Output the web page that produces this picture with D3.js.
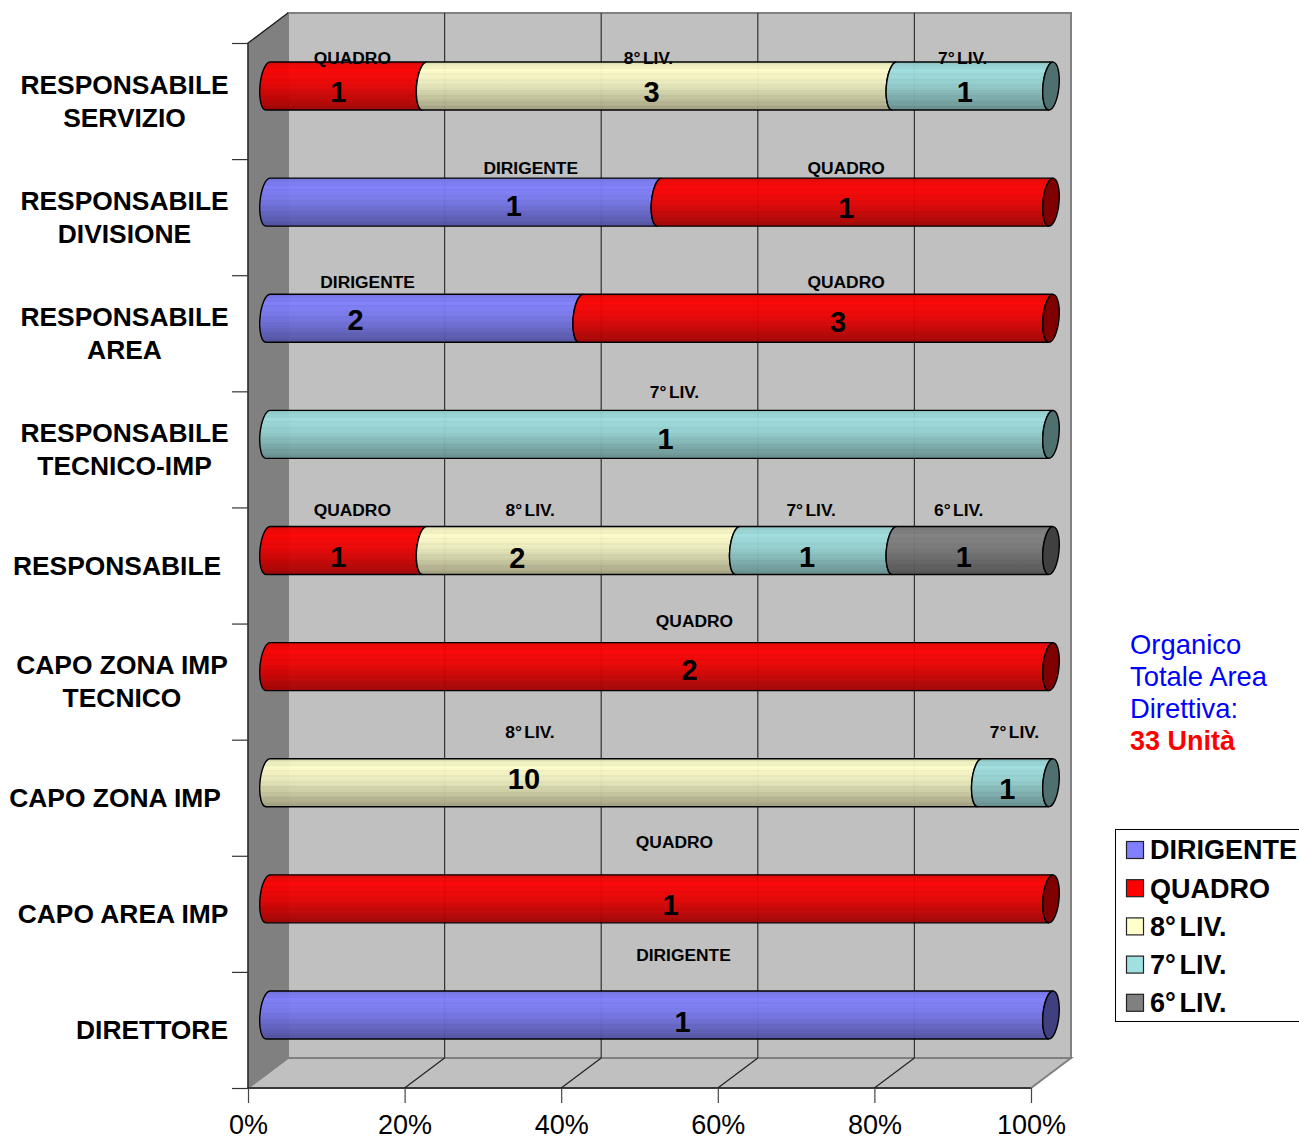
<!DOCTYPE html>
<html lang="it">

<head>
    <meta charset="UTF-8">
    <title>Organico Totale Area Direttiva</title>
    <script src="https://d3js.org/d3.v7.min.js"></script>
    <style>
        body {
            margin: 0;
            background: #fff;
            font-family: "Liberation Sans", Arial, sans-serif;
        }

        svg {
            display: block;
        }

        .cat {
            font-size: 26.4px;
            font-weight: bold;
            text-anchor: middle;
        }

        .val {
            font-size: 29px;
            font-weight: bold;
            text-anchor: middle;
        }

        .name {
            font-size: 17.4px;
            font-weight: bold;
            text-anchor: middle;
        }

        .legend-text {
            font-size: 27px;
            font-weight: bold;
        }

        .note {
            font-size: 27.4px;
        }

        .x-axis text {
            font-size: 27px;
            font-family: "Liberation Sans", Arial, sans-serif;
        }
    </style>
</head>

<body>
    <svg width="1299" height="1137"></svg>

    <script>
        const categories = [
            ['RESPONSABILE', 'SERVIZIO'],
            ['RESPONSABILE', 'DIVISIONE'],
            ['RESPONSABILE', 'AREA'],
            ['RESPONSABILE', 'TECNICO-IMP'],
            ['RESPONSABILE'],
            ['CAPO ZONA IMP', 'TECNICO'],
            ['CAPO ZONA IMP'],
            ['CAPO AREA IMP'],
            ['DIRETTORE']
        ];
        const seriesNames = ['DIRIGENTE', 'QUADRO', '8°LIV.', '7°LIV.', '6°LIV.'];
        const dirigente = [0, 1, 2, 0, 0, 0, 0, 0, 1];
        const quadro = [1, 1, 3, 0, 1, 2, 0, 1, 0];
        const liv8 = [3, 0, 0, 0, 2, 0, 10, 0, 0];
        const liv7 = [1, 0, 0, 1, 1, 0, 1, 0, 0];
        const liv6 = [0, 0, 0, 0, 1, 0, 0, 0, 0];
        const seriesValues = [dirigente, quadro, liv8, liv7, liv6];
        const xTicks = [0, 0.2, 0.4, 0.6, 0.8, 1];
        const noteLines = ['Organico', 'Totale Area', 'Direttiva:'];
        const noteTotal = '33 Unità';

        // colori
        const baseColors = ['#8080ff', '#ff0000', '#ffffcc', '#a0e0e0', '#808080'];
        const capColors = ['#404080', '#800000', '#808066', '#507070', '#404040'];

        // le etichette nel grafico originale sono spostate a mano:
        // [dx valore, dy valore, dx nome, dy nome] per ogni segmento, riga per riga
        const labelNudges = [
            [[-8, 6, 6, -28], [-8, 6, -11, -28], [-8, 6, -10, -28]],
            [[50, 4, 67, -34], [-9, 6, -9, -34]],
            [[-69, 2, -57, -36], [22, 4, 30, -36]],
            [[6, 4, 15, -42]],
            [[-8, 6, 6, -41], [-64, 7, -51, -41], [-9, 6, -5, -41], [-9, 6, -14, -41]],
            [[30, 3, 35, -46]],
            [[-100, -4, -94, -51], [-8, 6, -1, -51]],
            [[11, 6, 15, -57]],
            [[23, 7, 24, -60]]
        ];
        const catCenters = [124.5, 124.5, 124.5, 124.5, 117, 122, 115, 123, 152];

        const svg = d3.select('svg');

        const plot = { left: 248, right: 1031, top: 43, bottom: 1088 };
        const depth = { x: 40, y: -30 };
        const bar = { rx: 8, ry: 24, skew: 2, tilt: 5.4 };

        const x = d3.scaleLinear().domain([0, 1]).range([plot.left, plot.right]);
        const y = d3.scaleLinear().domain([0, categories.length]).range([plot.top, plot.bottom]);

        // sfumatura a bande del cilindro
        const defs = svg.append('defs');
        const steps = 26;
        baseColors.forEach((color, i) => {
            const grad = defs.append('linearGradient')
                .attr('id', `cyl${i}`)
                .attr('x1', 0).attr('y1', 0).attr('x2', 0).attr('y2', 1);
            d3.range(steps).forEach(s => {
                const t = s / steps;
                let k;
                if (t < 0.15) k = 0.9 + 0.1 * (t / 0.15);
                else if (t < 0.45) k = 1 - 0.08 * ((t - 0.15) / 0.3);
                else k = 0.92 - 0.3 * ((t - 0.45) / 0.55);
                k *= s % 3 === 0 ? 0.97 : 1;
                const c = d3.rgb(color);
                const fill = d3.rgb(c.r * k, c.g * k, c.b * k).formatHex();
                grad.append('stop').attr('offset', t).attr('stop-color', fill);
                grad.append('stop').attr('offset', (s + 1) / steps).attr('stop-color', fill);
            });
        });

        // 8° e LIV. hanno uno stacco nell'originale
        function setName(sel, name) {
            const cut = name.indexOf('°');
            if (cut < 0) {
                sel.text(name);
                return;
            }
            sel.append('tspan').text(name.slice(0, cut + 1));
            sel.append('tspan').attr('dx', '0.14em').text(name.slice(cut + 1));
        }

        // pareti
        const pts = a => a.map(p => p.join(',')).join(' ');
        const backL = plot.left + depth.x, backR = plot.right + depth.x;
        const backT = plot.top + depth.y, backB = plot.bottom + depth.y;

        svg.append('polygon')
            .attr('points', pts([[backL, backT], [backR, backT], [backR, backB], [backL, backB]]))
            .attr('fill', '#c0c0c0').attr('stroke', '#808080').attr('stroke-width', 2);
        svg.append('polygon')
            .attr('points', pts([[plot.left, plot.bottom], [backL, backB], [backR, backB], [plot.right, plot.bottom]]))
            .attr('fill', '#c0c0c0').attr('stroke', '#808080').attr('stroke-width', 2);
        svg.append('polygon')
            .attr('points', pts([[plot.left, plot.top], [backL, backT], [backL, backB], [plot.left, plot.bottom]]))
            .attr('fill', '#808080').attr('stroke', '#808080').attr('stroke-width', 1);

        // griglia
        const inner = xTicks.slice(1, -1);
        svg.selectAll('.grid-back').data(inner).enter().append('line')
            .attr('x1', d => x(d) + depth.x).attr('x2', d => x(d) + depth.x)
            .attr('y1', backT).attr('y2', backB)
            .attr('stroke', '#333').attr('stroke-width', 1.2);
        svg.selectAll('.grid-floor').data(inner).enter().append('line')
            .attr('x1', d => x(d)).attr('x2', d => x(d) + depth.x)
            .attr('y1', plot.bottom).attr('y2', backB)
            .attr('stroke', '#222').attr('stroke-width', 1.2);

        // bordi scuri
        svg.append('path')
            .attr('d', `M${backL},${backT}L${plot.left},${plot.top}V${plot.bottom}H${plot.right}`)
            .attr('fill', 'none').attr('stroke', '#222').attr('stroke-width', 1.4);

        // assi
        const xAxis = svg.append('g')
            .attr('class', 'x-axis')
            .attr('transform', `translate(0,${plot.bottom})`)
            .call(d3.axisBottom(x).tickValues(xTicks).tickFormat(d3.format('.0%')).tickSize(15).tickPadding(12));
        xAxis.select('.domain').remove();
        xAxis.selectAll('line').attr('stroke', '#444').attr('stroke-width', 1.2);
        xAxis.selectAll('text').attr('fill', '#000');

        const yAxis = svg.append('g')
            .attr('transform', `translate(${plot.left},0)`)
            .call(d3.axisLeft(y).tickValues(d3.range(categories.length + 1)).tickFormat('').tickSize(16));
        yAxis.select('.domain').remove();
        yAxis.selectAll('line').attr('stroke', '#333').attr('stroke-width', 1.2);

        // etichette categorie
        const lineH = 33;
        categories.forEach((lines, r) => {
            const cy = y(r + 0.5);
            lines.forEach((line, l) => {
                svg.append('text')
                    .attr('class', 'cat')
                    .attr('x', catCenters[r])
                    .attr('y', cy + (l - (lines.length - 1) / 2) * lineH)
                    .attr('dy', '0.35em')
                    .text(line);
            });
        });

        // barre 100%: pila per riga
        const rows = categories.map((c, r) => {
            const total = d3.sum(seriesValues, s => s[r]);
            let acc = 0;
            const segs = [];
            seriesValues.forEach((s, i) => {
                if (s[r] > 0) {
                    segs.push({ series: i, value: s[r], x0: acc / total, x1: (acc + s[r]) / total });
                    acc += s[r];
                }
            });
            return { row: r, segs };
        });

        const barX = v => x(v) + depth.x / 2;
        const barY = r => y(r + 0.5) + depth.y / 2;

        const labels = [];
        rows.forEach(({ row, segs }) => {
            const g = svg.append('g').attr('class', 'row');
            const cy = barY(row);
            const top = cy - bar.ry, bottom = cy + bar.ry;
            const arc = `A${bar.rx},${bar.ry} ${bar.tilt} 0`;

            const last = segs[segs.length - 1];
            segs.forEach((seg, i) => {
                const a = barX(seg.x0), b = barX(seg.x1);
                g.append('path')
                    .attr('d', `M${b + bar.skew},${top}L${a + bar.skew},${top}` +
                        `${arc} 0 ${a - bar.skew},${bottom}` +
                        `L${b - bar.skew},${bottom}` +
                        `${arc} 1 ${b + bar.skew},${top}Z`)
                    .attr('fill', `url(#cyl${seg.series})`)
                    .attr('fill-opacity', 0.95)
                    .attr('stroke', '#000')
                    .attr('stroke-width', 1.4);

                const mid = barX((seg.x0 + seg.x1) / 2);
                const n = labelNudges[row][i];
                labels.push({ name: String(seg.value), cls: 'val', x: mid + n[0], y: cy + n[1] });
                labels.push({ name: seriesNames[seg.series], cls: 'name', x: mid + n[2], y: cy + n[3] });
            });
            // tappo a destra
            g.append('ellipse')
                .attr('transform', `translate(${barX(1)},${cy}) rotate(${bar.tilt})`)
                .attr('rx', bar.rx).attr('ry', bar.ry)
                .attr('fill', capColors[last.series])
                .attr('stroke', '#000').attr('stroke-width', 1.4);
        });

        svg.selectAll('.lab').data(labels).enter().append('text')
            .attr('class', d => d.cls)
            .attr('x', d => d.x).attr('y', d => d.y)
            .attr('dy', '0.35em')
            .each(function (d) { setName(d3.select(this), d.name); });

        // nota
        const note = svg.append('text').attr('class', 'note').attr('x', 1130);
        noteLines.forEach((t, i) => {
            note.append('tspan').attr('x', 1130).attr('y', 644 + i * 32).attr('dy', '0.35em')
                .attr('fill', '#0000ff').text(t);
        });
        note.append('tspan').attr('x', 1130).attr('y', 741).attr('dy', '0.35em')
            .attr('fill', '#ff0000').attr('font-weight', 'bold').style('font-size', '27px').text(noteTotal);

        // legenda
        const legend = svg.append('g').attr('transform', 'translate(1115.5,829.5)');
        legend.append('rect').attr('width', 200).attr('height', 192)
            .attr('fill', '#fff').attr('stroke', '#000').attr('stroke-width', 1);
        seriesNames.forEach((name, i) => {
            const ly = 20.5 + i * 38.2;
            legend.append('rect')
                .attr('x', 11).attr('y', ly - 8.5).attr('width', 17).attr('height', 17)
                .attr('fill', baseColors[i]).attr('stroke', '#222').attr('stroke-width', 1.2);
            const t = legend.append('text')
                .attr('class', 'legend-text')
                .attr('x', 34.5).attr('y', ly).attr('dy', '0.35em');
            setName(t, name);
        });
    </script>
</body>

</html>
